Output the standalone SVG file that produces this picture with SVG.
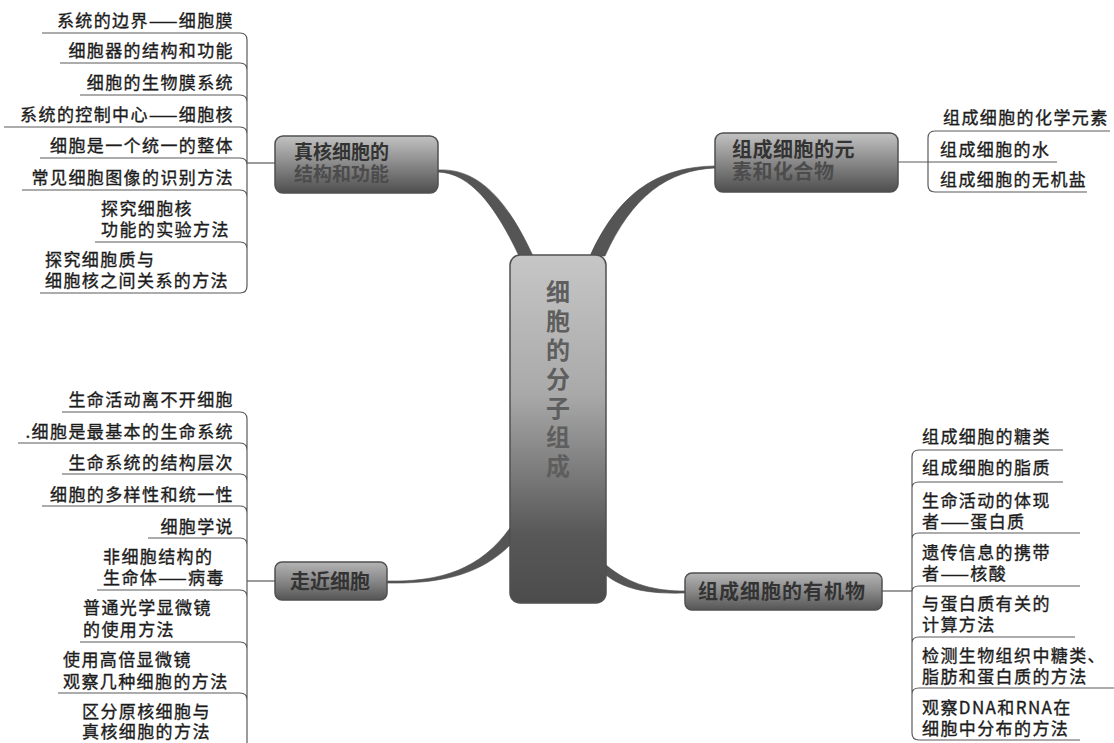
<svg xmlns="http://www.w3.org/2000/svg" width="1114" height="743" viewBox="0 0 1114 743">
<defs>
<linearGradient id="gCenter" x1="0" y1="0" x2="0" y2="1">
<stop offset="0" stop-color="#c6c6c6"/>
<stop offset="0.4" stop-color="#a9a9a9"/>
<stop offset="0.62" stop-color="#7c7c7c"/>
<stop offset="0.8" stop-color="#585858"/>
<stop offset="1" stop-color="#4c4c4c"/>
</linearGradient>
<linearGradient id="gNode" x1="0" y1="0" x2="0" y2="1">
<stop offset="0" stop-color="#c2c2c2"/>
<stop offset="0.45" stop-color="#8e8e8e"/>
<stop offset="1" stop-color="#4e4e4e"/>
</linearGradient>
<linearGradient id="gNodeS" x1="0" y1="0" x2="0" y2="1">
<stop offset="0" stop-color="#b4b4b4"/>
<stop offset="0.5" stop-color="#888888"/>
<stop offset="1" stop-color="#555555"/>
</linearGradient>
</defs>
<style>
.leaf{font-family:"Noto Sans CJK SC","Noto Sans",sans-serif;font-size:17px;letter-spacing:1.4px;fill:#1c1c1c;stroke:#1c1c1c;stroke-width:0.35}
.end{text-anchor:end}
.ln{fill:none;stroke:#5a5a5a;stroke-width:1.2}
.conn{fill:#555555;stroke:#4a4a4a;stroke-width:0.6}
.nodebox{stroke:#505050;stroke-width:1.5}
.ntxt{font-family:"Noto Sans CJK SC","Noto Sans",sans-serif;font-weight:bold;fill:#333333}
.ctxt{font-family:"Noto Sans CJK SC","Noto Sans",sans-serif;font-weight:bold;font-size:24px;fill:#5e5e5e;writing-mode:vertical-rl;letter-spacing:5px}
</style>

<g id="connectors">
<path class="conn" d="M438,170 C475,168 505,195 533,256 L519,256 C495,205 470,173 438,172 Z"/>
<path class="conn" d="M715,166 C660,167 620,190 590,256 L605,256 C632,196 668,170 715,168 Z"/>
<path class="conn" d="M387,581 C440,582 480,570 510,528 L510,545 C480,575 440,584 387,583 Z"/>
<path class="conn" d="M606,565 C630,585 655,591 685,591 L685,593 C650,594 625,590 606,575 Z"/>
<path class="ln" d="M247,163 H275"/>
<path class="ln" d="M247,581 H275"/>
<path class="ln" d="M898,162 H1057"/>
<path class="ln" d="M882,591 H912"/>
</g>

<g id="center">
<rect x="510" y="255" width="96" height="348" rx="10" fill="url(#gCenter)" class="nodebox"/>
<text class="ctxt" x="558" y="280">细胞的分子组成</text>
</g>

<g id="node-zhenhe">
<rect x="275" y="136" width="163" height="57" rx="8" fill="url(#gNode)" class="nodebox"/>
<text class="ntxt" font-size="19"><tspan x="294" y="159">真核细胞的</tspan><tspan x="294" y="181" style="fill:#4c4c4c">结构和功能</tspan></text>
</g>

<g id="node-yuansu">
<rect x="715" y="133" width="183" height="59" rx="8" fill="url(#gNode)" class="nodebox"/>
<text class="ntxt" font-size="20" letter-spacing="0.5"><tspan x="732" y="157">组成细胞的元</tspan><tspan x="732" y="179" style="fill:#4c4c4c">素和化合物</tspan></text>
</g>

<g id="node-zoujin">
<rect x="275" y="562" width="112" height="38" rx="7" fill="url(#gNodeS)" class="nodebox"/>
<text class="ntxt" x="290" y="589" font-size="20">走近细胞</text>
</g>

<g id="node-youji">
<rect x="685" y="573" width="197" height="37" rx="7" fill="url(#gNodeS)" class="nodebox"/>
<text class="ntxt" x="698" y="599" font-size="20" letter-spacing="1">组成细胞的有机物</text>
</g>

<g id="leaves-zhenhe">
<path class="ln" d="M42,33 H240 Q247,33 247,40 M60,63 H240 Q247,63 247,70 M80,95 H240 Q247,95 247,102 M4,127 H240 Q247,127 247,134 M40,158 H240 Q247,158 247,165 M22,190 H240 Q247,190 247,197 M95,242 H240 Q247,242 247,249 M40,293 H240 Q247,293 247,286 M247,40 V286"/>
<text class="leaf end" x="234" y="27">系统的边界——细胞膜</text>
<text class="leaf end" x="234" y="57">细胞器的结构和功能</text>
<text class="leaf end" x="234" y="89">细胞的生物膜系统</text>
<text class="leaf end" x="234" y="121">系统的控制中心——细胞核</text>
<text class="leaf end" x="234" y="152">细胞是一个统一的整体</text>
<text class="leaf end" x="234" y="184">常见细胞图像的识别方法</text>
<text class="leaf"><tspan x="101" y="215">探究细胞核</tspan><tspan x="101" y="236">功能的实验方法</tspan></text>
<text class="leaf"><tspan x="45" y="266">探究细胞质与</tspan><tspan x="45" y="287">细胞核之间关系的方法</tspan></text>
</g>

<g id="leaves-zoujin">
<path class="ln" d="M62,412 H240 Q247,412 247,419 M18,443 H240 Q247,443 247,450 M62,474 H240 Q247,474 247,481 M42,506 H240 Q247,506 247,513 M148,538 H240 Q247,538 247,545 M97,590 H240 Q247,590 247,597 M80,642 H240 Q247,642 247,649 M58,693 H240 Q247,693 247,700 M247,419 V743"/>
<text class="leaf end" x="234" y="406">生命活动离不开细胞</text>
<text class="leaf end" x="234" y="438">.细胞是最基本的生命系统</text>
<text class="leaf end" x="234" y="469">生命系统的结构层次</text>
<text class="leaf end" x="234" y="501">细胞的多样性和统一性</text>
<text class="leaf end" x="234" y="533">细胞学说</text>
<text class="leaf"><tspan x="103" y="563">非细胞结构的</tspan><tspan x="103" y="584">生命体——病毒</tspan></text>
<text class="leaf"><tspan x="83" y="614">普通光学显微镜</tspan><tspan x="83" y="636">的使用方法</tspan></text>
<text class="leaf"><tspan x="63" y="666">使用高倍显微镜</tspan><tspan x="63" y="688">观察几种细胞的方法</tspan></text>
<text class="leaf"><tspan x="82" y="718">区分原核细胞与</tspan><tspan x="82" y="738">真核细胞的方法</tspan></text>
</g>

<g id="leaves-yuansu">
<path class="ln" d="M1110,131 H935 Q928,131 928,138 V185 Q928,192 935,192 H1087"/>
<text class="leaf" x="943" y="124">组成细胞的化学元素</text>
<text class="leaf" x="940" y="156">组成细胞的水</text>
<text class="leaf" x="940" y="186">组成细胞的无机盐</text>
</g>

<g id="leaves-youji">
<path class="ln" d="M1063,450 H919 Q912,450 912,457 V733 Q912,740 919,740 H1080 M912,488 Q912,482 919,482 H1063 M912,539 Q912,533 919,533 H1080 M912,592 Q912,586 919,586 H1080 M912,643 Q912,637 919,637 H1075 M912,694 Q912,688 919,688 H1114"/>
<text class="leaf" x="922" y="443">组成细胞的糖类</text>
<text class="leaf" x="922" y="474">组成细胞的脂质</text>
<text class="leaf"><tspan x="922" y="507">生命活动的体现</tspan><tspan x="922" y="528">者——蛋白质</tspan></text>
<text class="leaf"><tspan x="922" y="559">遗传信息的携带</tspan><tspan x="922" y="580">者——核酸</tspan></text>
<text class="leaf"><tspan x="922" y="610">与蛋白质有关的</tspan><tspan x="922" y="631">计算方法</tspan></text>
<text class="leaf"><tspan x="922" y="662">检测生物组织中糖类、</tspan><tspan x="922" y="683">脂肪和蛋白质的方法</tspan></text>
<text class="leaf"><tspan x="922" y="714">观察DNA和RNA在</tspan><tspan x="922" y="735">细胞中分布的方法</tspan></text>
</g>
</svg>
